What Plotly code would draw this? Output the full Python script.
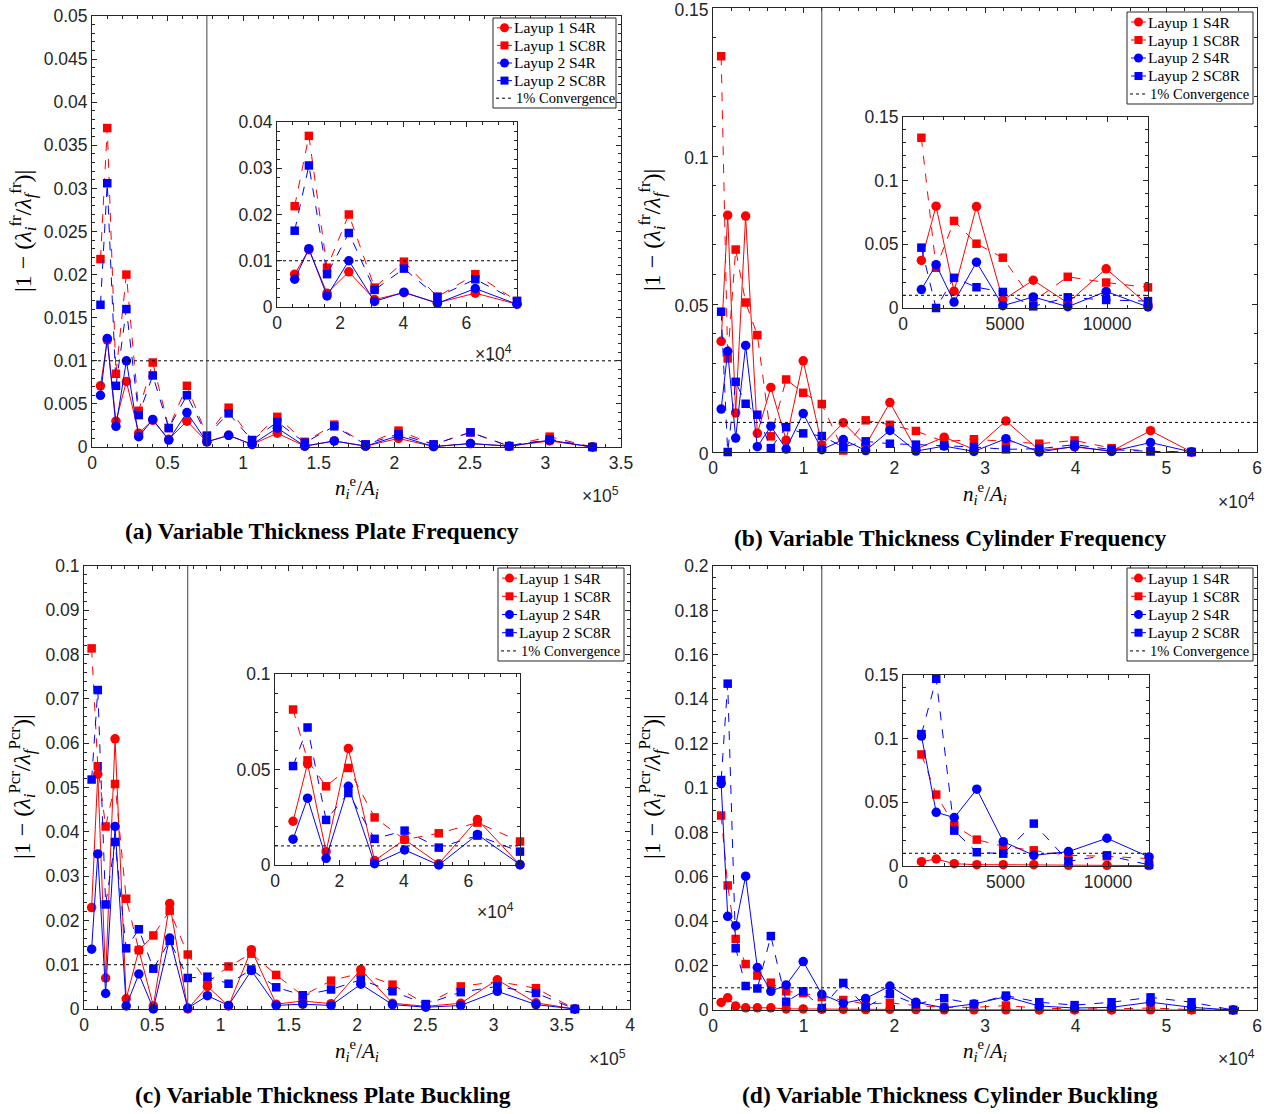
import plotly.graph_objects as go

W, H = 1275, 1114

# ---------------- data ----------------
plate_x = [5600, 10100, 15850, 22750, 30900, 40200, 50800, 62800, 76000,
           90400, 105900, 122600, 140800, 160300, 181000, 202800, 226000,
           250400, 276000, 302800, 331100, 359600]
cyl_x = [900, 1620, 2500, 3600, 4890, 6380, 8070, 9950, 12000,
         14370, 16840, 19510, 22380, 25500, 28780, 32310, 35980, 39880,
         43960, 48260, 52780, 57370]

# (a) plate frequency (21 meshes)
a_L1_S4R = [0.0071, 0.0124, 0.0030, 0.0076, 0.0016, 0.0031, 0.0009, 0.0030, 0.0006,
            0.00135, 0.0003, 0.0016, 0.0001, 0.0007, 0.0001, 0.0010, 0.00005, 0.0004,
            0.0001, 0.0007, 0.0]
a_L1_SC8R = [0.0218, 0.0370, 0.0085, 0.0200, 0.0042, 0.0098, 0.0022, 0.0071, 0.0013,
             0.00456, 0.0008, 0.0035, 0.0006, 0.0026, 0.0003, 0.0019, 0.0003, 0.0017,
             0.0001, 0.0012, 0.0]
a_L2_S4R = [0.0060, 0.0126, 0.0024, 0.0100, 0.0012, 0.0032, 0.0008, 0.0040, 0.0006,
            0.00135, 0.0003, 0.0022, 0.0001, 0.0007, 0.0001, 0.0013, 0.00005, 0.0004,
            0.0001, 0.0008, 0.0]
a_L2_SC8R = [0.0165, 0.0306, 0.0071, 0.0160, 0.0037, 0.0083, 0.0022, 0.0060, 0.0013,
             0.0039, 0.0008, 0.0029, 0.0005, 0.0024, 0.0003, 0.0015, 0.0003, 0.0017,
             0.0001, 0.0009, 0.0]

# (b) cylinder frequency (21 meshes)
b_L1_S4R = [0.0374, 0.0800, 0.0132, 0.0797, 0.0063, 0.0218, 0.0040, 0.0308, 0.0024,
            0.0099, 0.0023, 0.0167, 0.0010, 0.0050, 0.0009, 0.0105, 0.0006, 0.0017,
            0.0003, 0.0072, 0.0]
b_L1_SC8R = [0.1337, 0.0316, 0.0684, 0.0505, 0.0395, 0.0053, 0.0245, 0.0200, 0.0162,
             0.0005, 0.0107, 0.0092, 0.0071, 0.0035, 0.0043, 0.0036, 0.0028, 0.0039,
             0.0013, 0.0003, 0.0]
b_L2_S4R = [0.0145, 0.0340, 0.0047, 0.0360, 0.0018, 0.0087, 0.0010, 0.0130, 0.0008,
            0.0042, 0.0005, 0.0073, 0.0003, 0.0020, 0.0002, 0.0045, 0.0000, 0.0019,
            0.0002, 0.0032, 0.0]
b_L2_SC8R = [0.0474, 0.0000, 0.0237, 0.0163, 0.0126, 0.0013, 0.0084, 0.0063, 0.0054,
             0.0017, 0.0036, 0.0028, 0.0025, 0.0022, 0.0017, 0.0009, 0.0011, 0.0025,
             0.0008, 0.0002, 0.0]

# (c) plate buckling (22 meshes)
c_L1_S4R = [0.0229, 0.0530, 0.0070, 0.0610, 0.0023, 0.0133, 0.0007, 0.0238, 0.0000,
            0.0051, 0.0007, 0.0134, 0.0011, 0.0018, 0.0012, 0.0089, 0.0013, 0.0006,
            0.0013, 0.0066, 0.0014, 0.0]
c_L1_SC8R = [0.0814, 0.0548, 0.0412, 0.0508, 0.0249, 0.0133, 0.0166, 0.0222, 0.0123,
             0.0060, 0.0096, 0.0125, 0.0077, 0.0030, 0.0064, 0.0081, 0.0055, 0.0011,
             0.0051, 0.0062, 0.0047, 0.0]
c_L2_S4R = [0.0135, 0.0350, 0.0035, 0.0412, 0.0007, 0.0079, 0.0000, 0.0160, 0.0002,
            0.0030, 0.0008, 0.0087, 0.0008, 0.0011, 0.0008, 0.0056, 0.0010, 0.0004,
            0.0008, 0.0040, 0.0010, 0.0]
c_L2_SC8R = [0.0518, 0.0720, 0.0236, 0.0377, 0.0137, 0.0180, 0.0091, 0.0154, 0.0070,
             0.0073, 0.0057, 0.0089, 0.0049, 0.0031, 0.0044, 0.0066, 0.0040, 0.0011,
             0.0038, 0.0051, 0.0036, 0.0]

# (d) cylinder buckling (22 meshes)
d_L1_S4R = [0.0034, 0.0055, 0.0018, 0.0010, 0.0010, 0.0010, 0.0005, 0.0005, 0.0003,
            0.0003, 0.0002, 0.0003, 0.0002, 0.0001, 0.0001, 0.0001, 0.0, 0.0,
            0.0, 0.0001, 0.0, 0.0]
d_L1_SC8R = [0.0876, 0.0561, 0.0320, 0.0207, 0.0155, 0.0123, 0.0084, 0.0076, 0.0058,
             0.0045, 0.0027, 0.0032, 0.0020, 0.0012, 0.0012, 0.0020, 0.0008, 0.0005,
             0.0005, 0.0009, 0.0002, 0.0]
d_L2_S4R = [0.1020, 0.0422, 0.0380, 0.0603, 0.0191, 0.0084, 0.0113, 0.0218, 0.0071,
            0.0030, 0.0052, 0.0108, 0.0035, 0.0010, 0.0027, 0.0060, 0.0018, 0.0009,
            0.0012, 0.0035, 0.0012, 0.0]
d_L2_SC8R = [0.1036, 0.1470, 0.0278, 0.0108, 0.0097, 0.0333, 0.0037, 0.0084, 0.0009,
             0.0122, 0.0012, 0.0072, 0.0027, 0.0053, 0.0027, 0.0065, 0.0035, 0.0022,
             0.0035, 0.0057, 0.0035, 0.0]

series_names = ["Layup 1 S4R", "Layup 1 SC8R", "Layup 2 S4R", "Layup 2 SC8R"]
convergence_name = "1% Convergence"
convergence_level = 0.01
n_inset = 9

# tick labels
plate_main_xt = [0, 50000, 100000, 150000, 200000, 250000, 300000, 350000]
plate_main_xl = ["0", "0.5", "1", "1.5", "2", "2.5", "3", "3.5"]
plate_c_xt = [0, 50000, 100000, 150000, 200000, 250000, 300000, 350000, 400000]
plate_c_xl = ["0", "0.5", "1", "1.5", "2", "2.5", "3", "3.5", "4"]
plate_inset_xt = [0, 20000, 40000, 60000]
plate_inset_xl = ["0", "2", "4", "6"]
cyl_main_xt = [0, 10000, 20000, 30000, 40000, 50000, 60000]
cyl_main_xl = ["0", "1", "2", "3", "4", "5", "6"]
cyl_inset_xt = [0, 5000, 10000]
cyl_inset_xl = ["0", "5000", "10000"]

a_yt = [0, 0.005, 0.01, 0.015, 0.02, 0.025, 0.03, 0.035, 0.04, 0.045, 0.05]
a_yl = ["0", "0.005", "0.01", "0.015", "0.02", "0.025", "0.03", "0.035", "0.04", "0.045", "0.05"]
a_inset_yt = [0, 0.01, 0.02, 0.03, 0.04]
a_inset_yl = ["0", "0.01", "0.02", "0.03", "0.04"]
b_yt = [0, 0.05, 0.1, 0.15]
b_yl = ["0", "0.05", "0.1", "0.15"]
c_yt = [0, 0.01, 0.02, 0.03, 0.04, 0.05, 0.06, 0.07, 0.08, 0.09, 0.1]
c_yl = ["0", "0.01", "0.02", "0.03", "0.04", "0.05", "0.06", "0.07", "0.08", "0.09", "0.1"]
c_inset_yt = [0, 0.05, 0.1]
c_inset_yl = ["0", "0.05", "0.1"]
d_yt = [0, 0.02, 0.04, 0.06, 0.08, 0.1, 0.12, 0.14, 0.16, 0.18, 0.2]
d_yl = ["0", "0.02", "0.04", "0.06", "0.08", "0.1", "0.12", "0.14", "0.16", "0.18", "0.2"]
d_inset_yt = [0, 0.05, 0.1, 0.15]
d_inset_yl = ["0", "0.05", "0.1", "0.15"]

# ---------------- styling ----------------
RED, BLUE = "#FF0000", "#0000FF"
AXC = "#262626"
SANS = "Liberation Sans, Arial, sans-serif"
SERIF = "Liberation Serif, Times New Roman, serif"
styles = [
    dict(color=RED, symbol="circle", dash="solid"),
    dict(color=RED, symbol="square", dash="dash"),
    dict(color=BLUE, symbol="circle", dash="solid"),
    dict(color=BLUE, symbol="square", dash="dash"),
]


def dx(x0, x1):
    return [x0 / W, x1 / W]


def dy(ytop, ybot):
    return [1 - ybot / H, 1 - ytop / H]


def axis(domain, rng, tv, tt, minor_dtick, anchor, size=17.5, shift=0):
    return dict(domain=domain, range=rng, tickmode="array", tickvals=tv, ticktext=tt,
                ticks="inside", ticklen=5, tickwidth=1, tickcolor=AXC,
                showline=True, linecolor=AXC, linewidth=1, mirror="ticks",
                showgrid=False, zeroline=False, anchor=anchor, automargin=False,
                fixedrange=True, ticklabeloverflow="allow", ticklabelshift=shift,
                tickfont=dict(family=SANS, size=size, color=AXC),
                minor=dict(tickmode="linear", tick0=0, dtick=minor_dtick, ticks="inside",
                           ticklen=3, tickcolor=AXC, showgrid=False))


fig = go.Figure()

panels = [
    (plate_x[:21], [a_L1_S4R, a_L1_SC8R, a_L2_S4R, a_L2_SC8R], 1, 2, 350000, 76000),
    (cyl_x[:21], [b_L1_S4R, b_L1_SC8R, b_L2_S4R, b_L2_SC8R], 3, 4, 60000, 12000),
    (plate_x, [c_L1_S4R, c_L1_SC8R, c_L2_S4R, c_L2_SC8R], 5, 6, 400000, 76000),
    (cyl_x, [d_L1_S4R, d_L1_SC8R, d_L2_S4R, d_L2_SC8R], 7, 8, 60000, 12000),
]


def ref(i):
    return ("x" if i == 1 else f"x{i}"), ("y" if i == 1 else f"y{i}")


def msize(sym):
    return 9.5 if sym == "circle" else 8.5


for xs, sers, mi, ii, xmax, ixmax in panels:
    mx, my = ref(mi)
    ix, iy = ref(ii)
    for name, ys, st in zip(series_names, sers, styles):
        fig.add_trace(go.Scatter(
            x=xs, y=ys, mode="lines+markers", name=name, showlegend=False,
            xaxis=mx, yaxis=my, cliponaxis=False,
            line=dict(color=st["color"], width=1, dash=st["dash"]),
            marker=dict(symbol=st["symbol"], size=msize(st["symbol"]), color=st["color"])))
    fig.add_trace(go.Scatter(
        x=[0, xmax], y=[convergence_level, convergence_level], mode="lines",
        name=convergence_name, showlegend=False, xaxis=mx, yaxis=my,
        line=dict(color="#000000", width=1, dash="dot")))
    for name, ys, st in zip(series_names, sers, styles):
        fig.add_trace(go.Scatter(
            x=xs[:n_inset], y=ys[:n_inset], mode="lines+markers", name=name,
            showlegend=False, xaxis=ix, yaxis=iy, cliponaxis=False,
            line=dict(color=st["color"], width=1, dash=st["dash"]),
            marker=dict(symbol=st["symbol"], size=msize(st["symbol"]), color=st["color"])))
    fig.add_trace(go.Scatter(
        x=[0, ixmax], y=[convergence_level, convergence_level], mode="lines",
        name=convergence_name, showlegend=False, xaxis=ix, yaxis=iy,
        line=dict(color="#000000", width=1, dash="dot")))
    fig.add_shape(type="line", xref=mx, yref=my + " domain", x0=xs[n_inset - 1],
                  x1=xs[n_inset - 1], y0=0, y1=1, line=dict(color="#404040", width=1))

layout = dict(
    width=W, height=H, margin=dict(l=0, r=0, t=0, b=0, autoexpand=False),
    paper_bgcolor="white", plot_bgcolor="white", showlegend=False,
    hovermode=False,
    xaxis=axis(dx(92, 621), [0, 350000], plate_main_xt, plate_main_xl, 10000, "y"),
    yaxis=axis(dy(16, 447), [0, 0.05], a_yt, a_yl, 0.001, "x"),
    xaxis2=axis(dx(277, 517), [0, 76000], plate_inset_xt, plate_inset_xl, 5000, "y2"),
    yaxis2=axis(dy(122, 307), [0, 0.04], a_inset_yt, a_inset_yl, 0.002, "x2"),
    xaxis3=axis(dx(713, 1257), [0, 60000], cyl_main_xt, cyl_main_xl, 2000, "y3"),
    yaxis3=axis(dy(8, 452), [0, 0.15], b_yt, b_yl, 0.01, "x3", shift=2),
    xaxis4=axis(dx(903, 1148), [0, 12000], cyl_inset_xt, cyl_inset_xl, 1000, "y4"),
    yaxis4=axis(dy(117, 308), [0, 0.15], b_yt, b_yl, 0.01, "x4"),
    xaxis5=axis(dx(84, 630), [0, 400000], plate_c_xt, plate_c_xl, 10000, "y5"),
    yaxis5=axis(dy(566, 1009), [0, 0.1], c_yt, c_yl, 0.002, "x5"),
    xaxis6=axis(dx(275, 520), [0, 76000], plate_inset_xt, plate_inset_xl, 5000, "y6"),
    yaxis6=axis(dy(674, 865), [0, 0.1], c_inset_yt, c_inset_yl, 0.01, "x6"),
    xaxis7=axis(dx(713, 1257), [0, 60000], cyl_main_xt, cyl_main_xl, 2000, "y7"),
    yaxis7=axis(dy(566, 1010), [0, 0.2], d_yt, d_yl, 0.005, "x7"),
    xaxis8=axis(dx(903, 1149), [0, 12000], cyl_inset_xt, cyl_inset_xl, 1000, "y8"),
    yaxis8=axis(dy(675, 866), [0, 0.15], d_inset_yt, d_inset_yl, 0.01, "x8"),
)
fig.update_layout(**layout)

ann = []


def text(x, y, s, size=18, family=SERIF, angle=0, xanchor="center", color="#000000"):
    ann.append(dict(x=x / W, y=1 - y / H, xref="paper", yref="paper", text=s,
                    showarrow=False, textangle=angle, xanchor=xanchor, yanchor="middle",
                    font=dict(family=family, size=size, color=color)))


# ---- legend boxes (drawn as shapes + text, MATLAB style) ----
def px_shape(kind, x0, y0, x1, y1, **kw):
    fig.add_shape(type=kind, xref="paper", yref="paper",
                  x0=x0 / W, x1=x1 / W, y0=1 - y0 / H, y1=1 - y1 / H, **kw)


def legend_box(left, top, width, height):
    px_shape("rect", left, top, left + width, top + height,
             line=dict(color=AXC, width=1), fillcolor="white", layer="above")
    step = (height - 2) / 5
    entries = list(zip(series_names, styles)) + [(convergence_name, None)]
    for k, (name, st) in enumerate(entries):
        yc = top + 1 + step * (k + 0.5)
        if st is None:
            px_shape("line", left + 3, yc, left + 21, yc,
                     line=dict(color="#000000", width=1, dash="dot"), layer="above")
            text(left + 21, yc, name, size=14.5, xanchor="left")
        else:
            px_shape("line", left + 4, yc, left + 19, yc,
                     line=dict(color=st["color"], width=1), layer="above")
            r = 4.5 if st["symbol"] == "circle" else 4
            kind = "circle" if st["symbol"] == "circle" else "rect"
            px_shape(kind, left + 11.5 - r, yc - r, left + 11.5 + r, yc + r,
                     line=dict(color=st["color"], width=0), fillcolor=st["color"],
                     layer="above")
            text(left + 19, yc, name, size=15.5, xanchor="left")


legend_box(493, 18, 123, 90)
legend_box(1127, 12, 126, 92)
legend_box(498, 568, 126, 93)
legend_box(1127, 568, 126, 93)

ylab_fr = "|1 − (<i>λ</i><sub><i>i</i></sub><sup>fr</sup>/<i>λ</i><sub><i>f</i></sub><sup>fr</sup>)|"
ylab_pcr = "|1 − (<i>λ</i><sub><i>i</i></sub><sup>Pcr</sup>/<i>λ</i><sub><i>f</i></sub><sup>Pcr</sup>)|"
xlab = "<i>n</i><sub><i>i</i></sub><sup>e</sup>/<i>A</i><sub><i>i</i></sub>"

text(23, 231, ylab_fr, size=24, angle=-90)
text(652, 230, ylab_fr, size=24, angle=-90)
text(22, 787, ylab_pcr, size=24, angle=-90)
text(652, 787, ylab_pcr, size=24, angle=-90)

text(357, 487, xlab, size=21)
text(985, 493, xlab, size=21)
text(357, 1050, xlab, size=21)
text(985, 1050, xlab, size=21)

text(600, 495, "×10<sup>5</sup>", size=17.5, family=SANS, color=AXC)
text(1236, 501, "×10<sup>4</sup>", size=17.5, family=SANS, color=AXC)
text(607, 1058, "×10<sup>5</sup>", size=17.5, family=SANS, color=AXC)
text(1236, 1058, "×10<sup>4</sup>", size=17.5, family=SANS, color=AXC)
text(493, 353, "×10<sup>4</sup>", size=17.5, family=SANS, color=AXC)
text(495, 911, "×10<sup>4</sup>", size=17.5, family=SANS, color=AXC)

text(322, 531, "<b>(a) Variable Thickness Plate Frequency</b>", size=23.5)
text(950, 538, "<b>(b) Variable Thickness Cylinder Frequency</b>", size=23.5)
text(323, 1095, "<b>(c) Variable Thickness Plate Buckling</b>", size=23.5)
text(950, 1095, "<b>(d) Variable Thickness Cylinder Buckling</b>", size=23.5)

fig.update_layout(annotations=ann)
fig.write_html("out.html", config={"displayModeBar": False, "staticPlot": True},
               post_script="document.body.style.margin='0px';")
